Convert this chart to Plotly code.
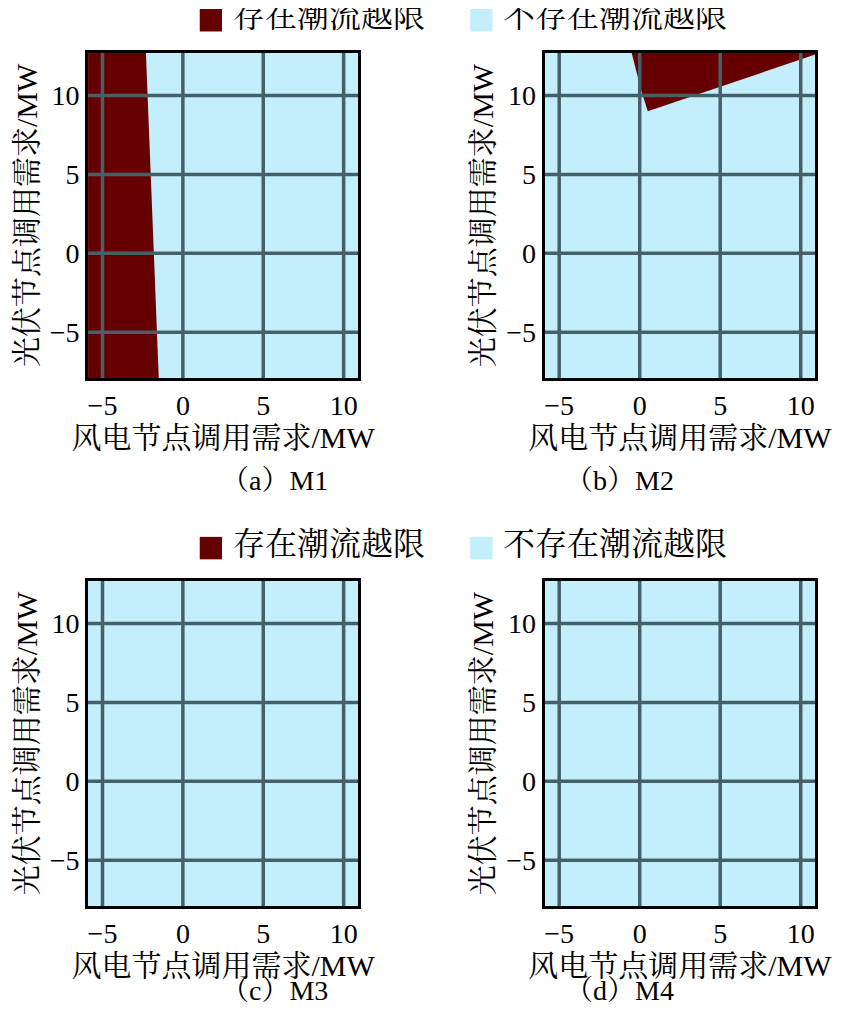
import plotly.graph_objects as go

x_ticks = [-5, 0, 5, 10]
y_ticks = [-5, 0, 5, 10]
x_range = [-5.9, 10.9]
y_range = [-7.9, 12.7]

# overload regions (polygons) per scenario
m1_x = [-5.9, -2.3, -1.5, -5.9]
m1_y = [12.7, 12.7, -7.9, -7.9]
m2_x = [-0.5, 0.0, 0.1, 0.5, 10.9, 10.9]
m2_y = [12.7, 10.8, 10.3, 9.0, 12.6, 12.7]
regions = [(m1_x, m1_y), (m2_x, m2_y), ([], []), ([], [])]
captions = ["（a）M1", "（b）M2", "（c）M3", "（d）M4"]
legend_names = ["存在潮流越限", "不存在潮流越限"]

DARK = "#660000"
LIGHT = "#c3eefb"
GRID = "#46606a"
SERIF = "Liberation Serif, Noto Serif CJK SC, Noto Sans CJK SC"

xd = [[0.0935, 0.409], [0.627, 0.943]]
yd = [[0.6376, 0.956], [0.1205, 0.4388]]

fig = go.Figure()
for i in range(4):
    r, c = divmod(i, 2)
    ax = "" if i == 0 else str(i + 1)
    xa, ya = "x" + ax, "y" + ax
    rx, ry = regions[i]
    if rx:
        fig.add_trace(go.Scatter(x=rx, y=ry, fill="toself", fillcolor=DARK, mode="lines",
                                 line=dict(width=0, color=DARK), xaxis=xa, yaxis=ya,
                                 showlegend=False, hoverinfo="skip"))
    for v in x_ticks:
        fig.add_trace(go.Scatter(x=[v, v], y=y_range, mode="lines", line=dict(color=GRID, width=3.5),
                                 xaxis=xa, yaxis=ya, showlegend=False, hoverinfo="skip"))
    for v in y_ticks:
        fig.add_trace(go.Scatter(x=x_range, y=[v, v], mode="lines", line=dict(color=GRID, width=3.5),
                                 xaxis=xa, yaxis=ya, showlegend=False, hoverinfo="skip"))
    common = dict(showgrid=False, zeroline=False, showline=True, linecolor="black", linewidth=3,
                  mirror=True, ticks="", tickfont=dict(family=SERIF, size=28, color="black"))
    fig.layout["xaxis" + ax] = dict(domain=xd[c], range=x_range, tickvals=x_ticks, anchor=ya,
                                    ticktext=[str(v).replace("-", "−") for v in x_ticks],
                                    title=dict(text="风电节点调用需求/MW", font=dict(family=SERIF, size=30, color="black"), standoff=4),
                                    **common)
    fig.layout["yaxis" + ax] = dict(domain=yd[r], range=y_range, tickvals=y_ticks, anchor=xa,
                                    ticktext=[str(v).replace("-", "−") for v in y_ticks],
                                    title=dict(text="光伏节点调用需求/MW", font=dict(family=SERIF, size=30, color="black"), standoff=4),
                                    **common)
    fig.add_annotation(x=(xd[c][0] + xd[c][1]) / 2 - 0.005, y=yd[r][0] - 0.10, xref="paper", yref="paper",
                       text=captions[i], showarrow=False, font=dict(family=SERIF, size=28, color="black"))

# legends for each row
for ly in [0.988, 0.471]:
    for lx, color, name in [(0.224, DARK, legend_names[0]), (0.540, LIGHT, legend_names[1])]:
        fig.add_shape(type="rect", xref="paper", yref="paper", x0=lx, x1=lx + 0.026,
                      y0=ly - 0.011, y1=ly + 0.011, fillcolor=color, line=dict(width=0))
        fig.add_annotation(x=lx + 0.036, y=ly, xref="paper", yref="paper", xanchor="left", yanchor="middle",
                           yshift=4, text=name, showarrow=False, font=dict(family=SERIF, size=32, color="black"))

fig.update_layout(width=856, height=1021, margin=dict(l=0, r=0, t=0, b=0),
                  plot_bgcolor=LIGHT, paper_bgcolor="white", showlegend=False)
fig.write_html("out.html")
